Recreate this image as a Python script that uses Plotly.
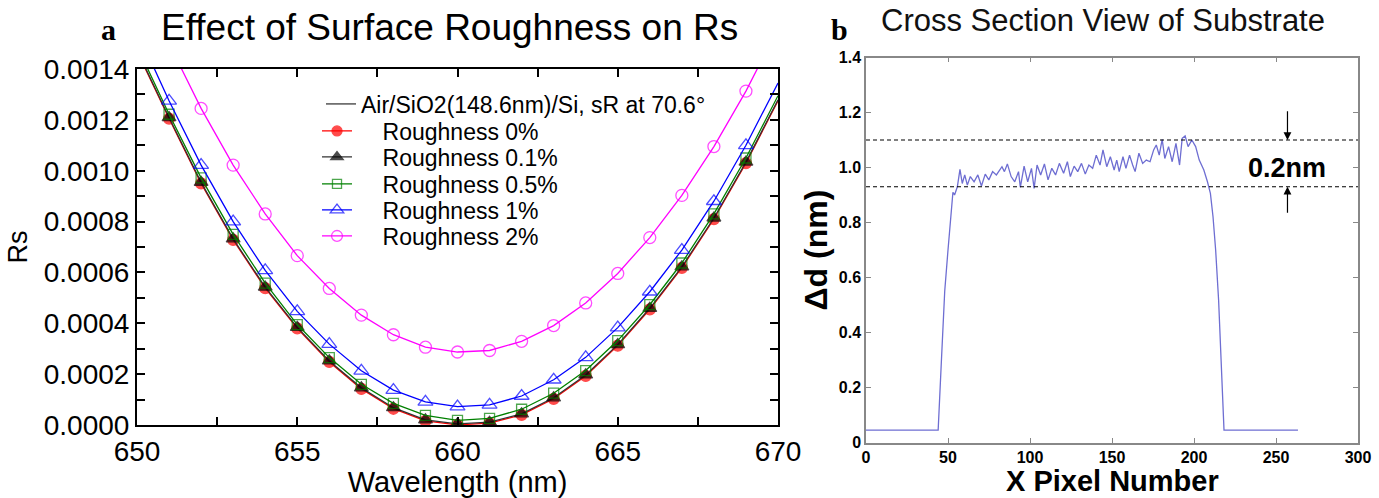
import plotly.graph_objects as go

# ---------------- Panel a data ----------------
wavelength = [650, 651, 652, 653, 654, 655, 656, 657, 658, 659, 660,
              661, 662, 663, 664, 665, 666, 667, 668, 669, 670]
rough_0 = [0.001470, 0.001205, 0.000950, 0.000728, 0.000538, 0.000380, 0.000248,
           0.000142, 0.000064, 0.000016, 0.0000005, 0.000007, 0.000040, 0.000103,
           0.000193, 0.000312, 0.000455, 0.000618, 0.000810, 0.001030, 0.001275]
rough_01 = [0.001474, 0.001209, 0.000954, 0.000732, 0.000542, 0.000384, 0.000252,
            0.000146, 0.000068, 0.000020, 0.0000045, 0.000011, 0.000044, 0.000107,
            0.000197, 0.000316, 0.000459, 0.000622, 0.000814, 0.001034, 0.001279]
rough_05 = [0.001490, 0.001222, 0.000972, 0.000750, 0.000558, 0.000395, 0.000265,
            0.000160, 0.000085, 0.000038, 0.000018, 0.000026, 0.000062, 0.000125,
            0.000214, 0.000332, 0.000473, 0.000637, 0.000830, 0.001050, 0.001295]
rough_1 = [0.001550, 0.001275, 0.001022, 0.000800, 0.000608, 0.000447, 0.000318,
           0.000213, 0.000137, 0.000091, 0.000072, 0.000079, 0.000114, 0.000178,
           0.000266, 0.000383, 0.000524, 0.000688, 0.000880, 0.001100, 0.001345]
rough_2 = [0.001780, 0.001500, 0.001245, 0.001022, 0.000830, 0.000666, 0.000537,
           0.000432, 0.000355, 0.000306, 0.000287, 0.000293, 0.000329, 0.000391,
           0.000480, 0.000596, 0.000737, 0.000903, 0.001095, 0.001313, 0.001560]
series_names = ["Roughness 0%", "Roughness 0.1%", "Roughness 0.5%",
                "Roughness 1%", "Roughness 2%"]
header_name = "Air/SiO2(148.6nm)/Si, sR at 70.6°"

a_xtickvals = [650, 652.5, 655, 657.5, 660, 662.5, 665, 667.5, 670]
a_xticktext = ["650", "", "655", "", "660", "", "665", "", "670"]
a_ytickvals = [0.0000, 0.0001, 0.0002, 0.0003, 0.0004, 0.0005, 0.0006, 0.0007,
               0.0008, 0.0009, 0.0010, 0.0011, 0.0012, 0.0013, 0.0014]
a_yticktext = ["0.0000", "", "0.0002", "", "0.0004", "", "0.0006", "",
               "0.0008", "", "0.0010", "", "0.0012", "", "0.0014"]

# ---------------- Panel b data ----------------
pixel_x = [0, 44, 46, 48, 50, 51, 52, 53, 54, 55.7, 57.3, 58.7, 60.2, 61.8, 63.6,
           65.9, 68.2, 70.4, 72.7, 74.9, 77.2, 79.5, 82.9, 84.4, 86.2, 88.5, 90.7,
           93.0, 94.1, 96.4, 98.6, 100.9, 102.5, 104.3, 106.5, 108.8, 111.0, 113.3,
           115.6, 117.9, 120.5, 122.8, 124.6, 126.9, 129.1, 131.4, 133.7, 135.9,
           138.2, 140.4, 142.7, 144.5, 146.8, 149.0, 151.3, 152.9, 154.4, 156.7,
           158.5, 160.7, 162.6, 164.1, 166.4, 168.7, 170.9, 173.2, 175.4, 177.0,
           178.8, 180.6, 182.2, 184.5, 186.7, 189.0, 191.2, 192.8, 194.6, 196.4,
           198.7, 201.0, 203.2, 206.0, 208.2, 210.0, 211.6, 213.2, 215.0, 218.3, 263.4]
delta_d = [0.045, 0.045, 0.30, 0.55, 0.70, 0.78, 0.85, 0.91, 0.90, 0.930, 0.993,
           0.942, 0.973, 0.936, 0.967, 0.948, 0.973, 0.933, 0.976, 0.955, 0.985,
           0.973, 1.003, 0.985, 1.013, 0.967, 0.948, 0.985, 0.928, 1.005, 0.948,
           0.997, 0.924, 1.009, 0.973, 1.013, 0.955, 0.997, 0.973, 1.015, 0.979,
           1.021, 0.967, 1.005, 0.985, 1.015, 0.976, 1.009, 0.997, 1.045, 1.009,
           1.064, 1.003, 1.039, 0.991, 1.027, 0.985, 1.039, 0.997, 1.045, 1.009,
           0.985, 1.052, 1.015, 1.027, 1.021, 1.064, 1.082, 1.045, 1.102, 1.033,
           1.076, 1.021, 1.088, 1.009, 1.106, 1.115, 1.076, 1.100, 1.076, 1.027,
           0.991, 0.948, 0.906, 0.821, 0.700, 0.518, 0.045, 0.045]
dash_levels = [1.10, 0.93]
arrow_x = 257
b_xtickvals = [0, 50, 100, 150, 200, 250, 300]
b_ytickvals = [0, 0.2, 0.4, 0.6, 0.8, 1.0, 1.2, 1.4]
b_yticktext = ["0", "0.2", "0.4", "0.6", "0.8", "1.0", "1.2", "1.4"]

# ---------------- Figure ----------------
W, H = 1379, 498
fig = go.Figure()

colors = ["#FF0000", "#000000", "#008000", "#0000FF", "#FF00FF"]
line_colors = ["#FF0000", "#333333", "#008000", "#0000FF", "#FF00FF"]
symbols = ["circle", "triangle-up", "square-open", "triangle-up-open", "circle-open"]
msizes = [11, 12, 10, 13, 12]
all_series = [rough_0, rough_01, rough_05, rough_1, rough_2]

legend_py = [131, 157, 184, 210, 236]

for i, (name, ys) in enumerate(zip(series_names, all_series)):
    sizes = [0 if (w == wavelength[0] or w == wavelength[-1]) else msizes[i] for w in wavelength]
    fig.add_trace(go.Scatter(
        x=wavelength, y=ys, mode="lines+markers",
        name="\u00a0" * 4 + name,
        line=dict(color=line_colors[i], width=1.3),
        marker=dict(symbol=symbols[i], size=sizes, color=colors[i],
                    line=dict(color=colors[i], width=1.3)),
        xaxis="x", yaxis="y", legend="legend" + ("" if i == 0 else str(i + 1)),
    ))

# header legend entry (line only)
fig.add_trace(go.Scatter(
    x=[None], y=[None], mode="lines", name=header_name,
    line=dict(color="#000000", width=1), xaxis="x", yaxis="y", legend="legend6",
))

fig.add_trace(go.Scatter(
    x=pixel_x, y=delta_d, mode="lines", showlegend=False,
    line=dict(color="#6E6ED2", width=1.3), xaxis="x2", yaxis="y2",
))

legend_common = dict(bgcolor="rgba(0,0,0,0)", borderwidth=0, xanchor="left",
                     yanchor="middle", font=dict(family="Liberation Sans", size=23, color="#000"),
                     itemclick=False, itemdoubleclick=False)
leg_layout = {}
for i, py in enumerate(legend_py):
    key = "legend" + ("" if i == 0 else str(i + 1))
    leg_layout[key] = dict(x=317 / W, y=1 - py / H, **legend_common)
leg_layout["legend6"] = dict(x=321 / W, y=1 - 104 / H, **legend_common)

a_font = dict(family="Liberation Sans", size=28, color="#000")
b_tickfont = dict(family="Liberation Sans", size=16, color="#000", weight="bold")

fig.update_layout(
    width=W, height=H,
    margin=dict(l=0, r=0, t=0, b=0, autoexpand=False),
    paper_bgcolor="white", plot_bgcolor="white",
    **leg_layout,
    xaxis=dict(domain=[137 / W, 778 / W], range=[650, 670], automargin=False,
               tickmode="array", tickvals=a_xtickvals, ticktext=a_xticktext,
               ticks="inside", ticklen=8, tickwidth=1.5, tickcolor="#000",
               showline=True, linecolor="#000", linewidth=2, mirror="ticks",
               showgrid=False, zeroline=False, tickfont=a_font,
               title=dict(text="Wavelength (nm)", font=dict(family="Liberation Sans", size=29, color="#000"), standoff=12)),
    yaxis=dict(domain=[1 - 425 / H, 1 - 69 / H], range=[0, 0.0014], automargin=False,
               tickmode="array", tickvals=a_ytickvals, ticktext=a_yticktext,
               ticks="inside", ticklen=8, tickwidth=1.5, tickcolor="#000",
               showline=True, linecolor="#000", linewidth=2, mirror="ticks",
               showgrid=False, zeroline=False, tickfont=a_font,
               title=dict(text="Rs", font=dict(family="Liberation Sans", size=27, color="#000"), standoff=8)),
    xaxis2=dict(domain=[866 / W, 1358 / W], range=[0, 300], anchor="y2", automargin=False,
                tickmode="array", tickvals=b_xtickvals,
                ticks="inside", ticklen=5, tickwidth=1.2, tickcolor="#888",
                showline=True, linecolor="#888", linewidth=1.5, mirror="ticks",
                showgrid=False, zeroline=False, tickfont=b_tickfont),
    yaxis2=dict(domain=[1 - 442.5 / H, 1 - 57.5 / H], range=[0, 1.4], anchor="x2", automargin=False,
                tickmode="array", tickvals=b_ytickvals, ticktext=b_yticktext,
                ticks="inside", ticklen=5, tickwidth=1.2, tickcolor="#888",
                showline=True, linecolor="#888", linewidth=1.5, mirror="ticks",
                showgrid=False, zeroline=False, tickfont=b_tickfont,
                title=dict(text="Δd (nm)", font=dict(family="Liberation Sans", size=32, color="#000", weight="bold"), standoff=2)),
)

for lvl in dash_levels:
    fig.add_shape(type="line", xref="x2", yref="y2", x0=0, x1=300, y0=lvl, y1=lvl,
                  line=dict(color="#000", width=1.2, dash="4px,3px"))

center = dict(xanchor="center", yanchor="middle", xref="paper", yref="paper", showarrow=False)
annotations = [
    dict(text="<b>a</b>", x=108 / W, y=1 - 30 / H,
         font=dict(family="Liberation Serif", size=30, color="#000"), **center),
    dict(text="Effect of Surface Roughness on Rs", x=449 / W, y=1 - 27 / H,
         font=dict(family="Liberation Sans", size=37, color="#000"), **center),
    dict(text="<b>b</b>", x=839 / W, y=1 - 30 / H,
         font=dict(family="Liberation Serif", size=30, color="#000"), **center),
    dict(text="Cross Section View of Substrate", x=1103 / W, y=1 - 20 / H,
         font=dict(family="Liberation Sans", size=31, color="#111"), **center),
    dict(text="<b>X Pixel Number</b>", x=1112 / W, y=1 - 481 / H, borderpad=0,
         font=dict(family="Liberation Sans", size=29, color="#000"), **center),
    dict(text="<b>0.2nm</b>", x=arrow_x, y=1.0, xref="x2", yref="y2", showarrow=False,
         font=dict(family="Liberation Sans", size=27, color="#000")),
    dict(text="", x=arrow_x, y=dash_levels[0], ax=arrow_x, ay=1.21, xref="x2", yref="y2",
         axref="x2", ayref="y2", showarrow=True, arrowhead=2, arrowsize=1.3,
         arrowwidth=1.2, arrowcolor="#000", standoff=0),
    dict(text="", x=arrow_x, y=dash_levels[1], ax=arrow_x, ay=0.83, xref="x2", yref="y2",
         axref="x2", ayref="y2", showarrow=True, arrowhead=2, arrowsize=1.3,
         arrowwidth=1.2, arrowcolor="#000", standoff=0),
]
fig.update_layout(annotations=annotations)

fig.write_html("out.html")
